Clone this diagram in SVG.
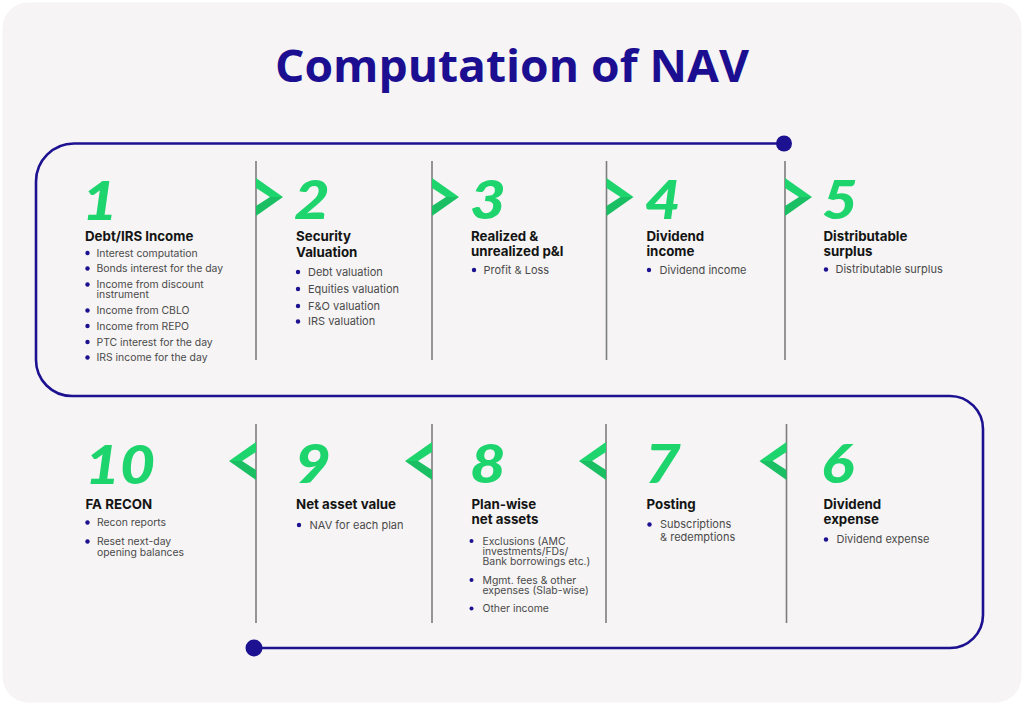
<svg xmlns="http://www.w3.org/2000/svg" width="1024" height="706" viewBox="0 0 1024 706">
<style>
.num{font-family:Lato,"Noto Sans",sans-serif;font-weight:900;font-style:italic;font-size:54px;fill:#1dd46d}
.h{font-family:Inter,"Noto Sans",sans-serif;font-weight:700;font-size:13.3px;fill:#141414}
.b{font-family:Inter,"Noto Sans",sans-serif;font-weight:400;font-size:10.4px;fill:#4a4a4a}
.b2{font-family:Inter,"Noto Sans",sans-serif;font-weight:400;font-size:11px;fill:#4a4a4a}
.dot{fill:#1c1190}
.div{stroke:#7d7d7d;stroke-width:1.6}
</style>
<defs>
<g id="chev">
<polygon points="0,0 27,19 14,19 0,10" fill="#1dd46d"/>
<polygon points="14,19 27,19 0,38 0,28" fill="#19bf62"/>
</g>
</defs>
<rect width="1024" height="706" fill="#ffffff"/>
<rect x="2.5" y="2.5" width="1019" height="700" rx="26" fill="#f6f4f5"/>
<text x="512" y="82" text-anchor="middle" font-family="'Open Sans',Inter,sans-serif" font-weight="700" font-size="44" fill="#1c0e91" textLength="474" lengthAdjust="spacingAndGlyphs">Computation of NAV</text>

<g id="connectors">
<path d="M784 143.5 H74 A38 38 0 0 0 36 181.5 V360 A36 36 0 0 0 72 396 H950 A33 33 0 0 1 983 429 V615 A33 33 0 0 1 950 648 H254" fill="none" stroke="#1c1190" stroke-width="2.6"/>
<circle cx="784" cy="143.5" r="8" fill="#1c1190"/>
<circle cx="254" cy="648" r="8.5" fill="#1c1190"/>
<line class="div" x1="256" y1="161" x2="256" y2="360"/>
<line class="div" x1="432" y1="161" x2="432" y2="360"/>
<line class="div" x1="606.5" y1="161" x2="606.5" y2="360"/>
<line class="div" x1="785" y1="161" x2="785" y2="360"/>
<line class="div" x1="256" y1="424" x2="256" y2="623"/>
<line class="div" x1="432" y1="424" x2="432" y2="623"/>
<line class="div" x1="606" y1="424" x2="606" y2="623"/>
<line class="div" x1="786.5" y1="424" x2="786.5" y2="623"/>
<use href="#chev" transform="translate(256,178)"/>
<use href="#chev" transform="translate(432,178)"/>
<use href="#chev" transform="translate(606.5,178)"/>
<use href="#chev" transform="translate(785,178)"/>
<use href="#chev" transform="translate(256,442) scale(-1,1)"/>
<use href="#chev" transform="translate(432,442) scale(-1,1)"/>
<use href="#chev" transform="translate(606,442) scale(-1,1)"/>
<use href="#chev" transform="translate(786.5,442) scale(-1,1)"/>
</g>

<g id="node1">
<text class="num" transform="translate(82,220) scale(1.14,1)">1</text>
<text class="h" x="85" y="241">Debt/IRS Income</text>
<circle class="dot" cx="87.5" cy="253" r="2.2"/><text class="b" x="96.5" y="256.5">Interest computation</text>
<circle class="dot" cx="87.5" cy="268.5" r="2.2"/><text class="b" x="96.5" y="272">Bonds interest for the day</text>
<circle class="dot" cx="87.5" cy="284.5" r="2.2"/><text class="b" x="96.5" y="288">Income from discount<tspan x="96.5" dy="10">instrument</tspan></text>
<circle class="dot" cx="87.5" cy="310.5" r="2.2"/><text class="b" x="96.5" y="314">Income from CBLO</text>
<circle class="dot" cx="87.5" cy="326" r="2.2"/><text class="b" x="96.5" y="329.5">Income from REPO</text>
<circle class="dot" cx="87.5" cy="342" r="2.2"/><text class="b" x="96.5" y="345.5">PTC interest for the day</text>
<circle class="dot" cx="87.5" cy="357.5" r="2.2"/><text class="b" x="96.5" y="361">IRS income for the day</text>
</g>

<g id="node2">
<text class="num" transform="translate(294,219) scale(1.14,1)">2</text>
<text class="h" x="296" y="241">Security<tspan x="296" dy="15.5">Valuation</tspan></text>
<circle class="dot" cx="298" cy="272" r="2.2"/><text class="b2" x="308" y="275.8">Debt valuation</text>
<circle class="dot" cx="298" cy="289" r="2.2"/><text class="b2" x="308" y="292.8">Equities valuation</text>
<circle class="dot" cx="298" cy="306" r="2.2"/><text class="b2" x="308" y="309.8">F&amp;O valuation</text>
<circle class="dot" cx="298" cy="321.5" r="2.2"/><text class="b2" x="308" y="325.3">IRS valuation</text>
</g>

<g id="node3">
<text class="num" transform="translate(470,219) scale(1.14,1)">3</text>
<text class="h" x="471" y="241">Realized &amp;<tspan x="471" dy="15">unrealized p&amp;l</tspan></text>
<circle class="dot" cx="474" cy="270" r="2.2"/><text class="b2" x="483.5" y="273.8">Profit &amp; Loss</text>
</g>

<g id="node4">
<text class="num" transform="translate(645,219) scale(1.14,1)">4</text>
<text class="h" x="646.5" y="241">Dividend<tspan x="646.5" dy="15">income</tspan></text>
<circle class="dot" cx="649" cy="270" r="2.2"/><text class="b2" x="659.5" y="273.8">Dividend income</text>
</g>

<g id="node5">
<text class="num" transform="translate(822,219) scale(1.14,1)">5</text>
<text class="h" x="823.5" y="241">Distributable<tspan x="823.5" dy="15">surplus</tspan></text>
<circle class="dot" cx="826" cy="269.5" r="2.2"/><text class="b2" x="835.5" y="273.3">Distributable surplus</text>
</g>

<g id="node6">
<text class="num" transform="translate(821,483) scale(1.14,1)">6</text>
<text class="h" x="823.5" y="509">Dividend<tspan x="823.5" dy="15">expense</tspan></text>
<circle class="dot" cx="826" cy="539.5" r="2.2"/><text class="b2" x="836.5" y="543.3">Dividend expense</text>
</g>

<g id="node7">
<text class="num" transform="translate(645,483) scale(1.14,1)">7</text>
<text class="h" x="646.5" y="509">Posting</text>
<circle class="dot" cx="649.5" cy="524.5" r="2.2"/><text class="b2" x="660" y="528.3">Subscriptions<tspan x="660" dy="12.7">&amp; redemptions</tspan></text>
</g>

<g id="node8">
<text class="num" transform="translate(470,483) scale(1.14,1)">8</text>
<text class="h" x="471.5" y="509">Plan-wise<tspan x="471.5" dy="15">net assets</tspan></text>
<circle class="dot" cx="471.5" cy="541" r="2"/><text class="b" x="482.5" y="544.5">Exclusions (AMC<tspan x="482.5" dy="10">investments/FDs/</tspan><tspan x="482.5" dy="10">Bank borrowings etc.)</tspan></text>
<circle class="dot" cx="471.5" cy="580" r="2"/><text class="b" x="482.5" y="583.5">Mgmt. fees &amp; other<tspan x="482.5" dy="10.5">expenses (Slab-wise)</tspan></text>
<circle class="dot" cx="471.5" cy="608.5" r="2"/><text class="b" x="482.5" y="612">Other income</text>
</g>

<g id="node9">
<text class="num" transform="translate(295,483) scale(1.14,1)">9</text>
<text class="h" x="296" y="509">Net asset value</text>
<circle class="dot" cx="299" cy="525" r="2.2"/><text class="b2" x="309.5" y="528.8">NAV for each plan</text>
</g>

<g id="node10">
<text class="num" transform="translate(85,484) scale(1.12,1)">10</text>
<text class="h" x="85.5" y="509">FA RECON</text>
<circle class="dot" cx="87.5" cy="522.5" r="2.2"/><text class="b" x="97" y="526">Recon reports</text>
<circle class="dot" cx="87.5" cy="541.5" r="2.2"/><text class="b" x="97" y="545">Reset next-day<tspan x="97" dy="11">opening balances</tspan></text>
</g>
</svg>
